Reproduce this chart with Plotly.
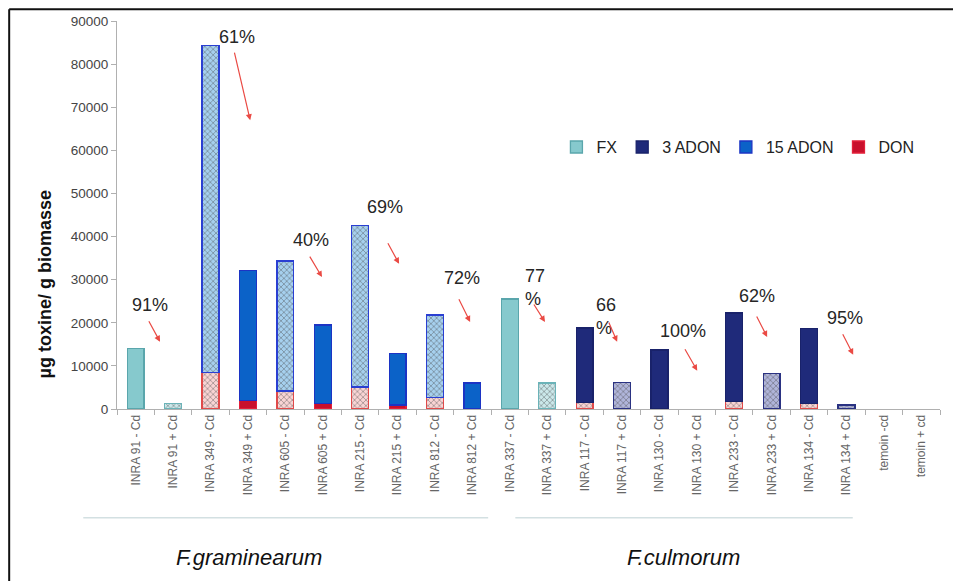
import plotly.graph_objects as go

categories = ["INRA 91 - Cd", "INRA 91 + Cd", "INRA 349 - Cd", "INRA 349 + Cd",
              "INRA 605 - Cd", "INRA 605 + Cd", "INRA 215 - Cd", "INRA 215 + Cd",
              "INRA 812 - Cd", "INRA 812 + Cd", "INRA 337 - Cd", "INRA 337 + Cd",
              "INRA 117 - Cd", "INRA 117 + Cd", "INRA 130 - Cd", "INRA 130 + Cd",
              "INRA 233 - Cd", "INRA 233 + Cd", "INRA 134 - Cd", "INRA 134 + Cd",
              "temoin -cd", "temoin + cd"]

fx_vals    = [14100, 1200, 0, 0, 0, 0, 0, 0, 0, 0, 25500, 6000, 0, 0, 0, 0, 0, 0, 0, 0, 0, 0]
adon3_vals = [0, 0, 0, 0, 0, 0, 0, 0, 0, 0, 0, 0, 17300, 6200, 13700, 0, 20600, 8200, 17300, 900, 0, 0]
adon15_vals = [0, 0, 75800, 30200, 30100, 18300, 37500, 11900, 19100, 6000, 0, 0, 0, 0, 0, 0, 0, 0, 0, 0, 0, 0]
don_vals   = [0, 0, 8500, 1900, 4200, 1200, 5100, 900, 2700, 0, 0, 0, 1500, 0, 0, 0, 1700, 0, 1300, 0, 0, 0]

# which bars of each series are drawn with a hatched fill (style)
fx_hatched = {1, 11}
adon3_hatched = {13, 17, 19}
adon15_hatched = {2, 4, 6, 8}
don_hatched = {2, 4, 6, 8, 12, 16, 18}

pct_labels = ["91%", "61%", "40%", "69%", "72%", "77<br>%", "66<br>%", "100%", "62%", "95%"]
group_labels = ["F.graminearum", "F.culmorum"]

FONT = "Arial, Liberation Sans, sans-serif"

def styled(n, hatched, solid, solid_line, light, fg, hatch_line):
    colors, lines, shapes, bgs, fgs = [], [], [], [], []
    for i in range(n):
        if i in hatched:
            colors.append(light); lines.append(hatch_line); shapes.append("x")
            bgs.append(light); fgs.append(fg)
        else:
            colors.append(solid); lines.append(solid_line); shapes.append("")
            bgs.append(solid); fgs.append(solid)
    return dict(color=colors,
                line=dict(color=lines, width=1.3),
                pattern=dict(shape=shapes, bgcolor=bgs, fgcolor=fgs, size=4, solidity=0.35))

def nz(vals):
    return [v if v else None for v in vals]

n = len(categories)
fig = go.Figure()
fig.add_trace(go.Bar(name="DON", x=categories, y=nz(don_vals), legendrank=4,
                     marker=styled(n, don_hatched, "#c8102c", "#e3203a", "#f9d4d4", "#e48888", "#e04a4a")))
fig.add_trace(go.Bar(name="15 ADON", x=categories, y=nz(adon15_vals), legendrank=3,
                     marker=styled(n, adon15_hatched, "#0b62c8", "#1c34c4", "#a6d0ee", "#5c9fd6", "#2a3fd2")))
fig.add_trace(go.Bar(name="3 ADON", x=categories, y=nz(adon3_vals), legendrank=2,
                     marker=styled(n, adon3_hatched, "#1f2a7a", "#19226a", "#b0b5da", "#3d4892", "#2a3282")))
fig.add_trace(go.Bar(name="FX", x=categories, y=nz(fx_vals), legendrank=1,
                     marker=styled(n, fx_hatched, "#86c9cd", "#5aa6ac", "#cbe8ea", "#86c2c6", "#6bb3b8")))

# percentage labels: (x index, y value)
pct_pos = [(0.38, 24200), (2.71, 86400), (4.69, 39200), (6.66, 46900), (8.72, 30400),
           (10.68, 28300), (12.58, 21500), (14.63, 18100), (16.61, 26200), (18.96, 21100)]
# arrows: (tail x, tail y, head x, head y)
arrows = [(0.33, 20700, 0.65, 15600), (2.63, 83000, 3.06, 67000), (4.63, 35700, 4.98, 30600),
          (6.72, 38800, 7.04, 33700), (8.62, 25800, 8.94, 20200), (10.62, 24600, 10.94, 20200),
          (12.63, 20400, 12.87, 15600), (14.66, 14200, 15.01, 8900), (16.58, 21800, 16.88, 16700),
          (18.88, 17700, 19.18, 12600)]

annotations = []
for lab, (px, py) in zip(pct_labels, pct_pos):
    annotations.append(dict(x=px, y=py, xref="x", yref="y", text=lab, showarrow=False,
                            xanchor="center", yanchor="middle", align="left",
                            font=dict(family=FONT, size=18, color="#262626")))
for tx, ty, hx, hy in arrows:
    annotations.append(dict(x=hx, y=hy, ax=tx, ay=ty, xref="x", yref="y", axref="x", ayref="y",
                            text="", showarrow=True, arrowhead=2, arrowsize=1, arrowwidth=1.2,
                            arrowcolor="#ea4a44"))
annotations.append(dict(x=-0.088, y=0.32, xref="paper", yref="paper", text="<b>µg toxine/ g biomasse</b>",
                        xanchor="center", yanchor="middle", textangle=-90, showarrow=False,
                        font=dict(family=FONT, size=18, color="#111")))
for lab, gx in zip(group_labels, [0.160, 0.688]):
    annotations.append(dict(x=gx, y=-0.383, xref="paper", yref="paper", text=f"<i>{lab}</i>",
                            xanchor="center", yanchor="middle", showarrow=False,
                            font=dict(family=FONT, size=22, color="#111")))

shapes = [
    dict(type="line", xref="paper", yref="paper", x0=-0.041, x1=0.451, y0=-0.280, y1=-0.280,
         line=dict(color="#d3e0e2", width=1.5)),
    dict(type="line", xref="paper", yref="paper", x0=0.484, x1=0.894, y0=-0.280, y1=-0.280,
         line=dict(color="#d3e0e2", width=1.5)),
    dict(type="line", xref="paper", yref="paper", x0=-0.131, x1=1.02, y0=1.030, y1=1.030,
         line=dict(color="#111", width=2)),
    dict(type="line", xref="paper", yref="paper", x0=-0.131, x1=-0.131, y0=1.030, y1=-0.45,
         line=dict(color="#111", width=2)),
]

fig.update_layout(
    width=953, height=581,
    margin=dict(l=117, r=13, t=21, b=172),
    paper_bgcolor="white", plot_bgcolor="white",
    barmode="stack", bargap=0.55,
    font=dict(family=FONT, color="#333"),
    legend=dict(orientation="h", x=0.975, xanchor="right", y=0.675, yanchor="middle",
                font=dict(family=FONT, size=16, color="#222"), bgcolor="rgba(0,0,0,0)",
                itemwidth=30, traceorder="normal"),
    annotations=annotations, shapes=shapes,
    xaxis=dict(type="category", tickangle=-90, tickfont=dict(family=FONT, size=12, color="#666"),
               showline=True, linecolor="#b0b0b0", linewidth=1, ticks="outside", tickson="boundaries",
               ticklen=5, tickcolor="#b0b0b0", showgrid=False, range=[-0.5, n - 0.5]),
    yaxis=dict(range=[0, 90000], dtick=10000, tickformat="d", showgrid=False, zeroline=False,
               showline=True, linecolor="#b0b0b0", linewidth=1, ticks="outside", ticklen=5,
               tickcolor="#b0b0b0", tickfont=dict(family=FONT, size=13.5, color="#444")),
)

fig.write_html("out.html", config={"displayModeBar": False},
               post_script="document.body.style.margin='0';")
